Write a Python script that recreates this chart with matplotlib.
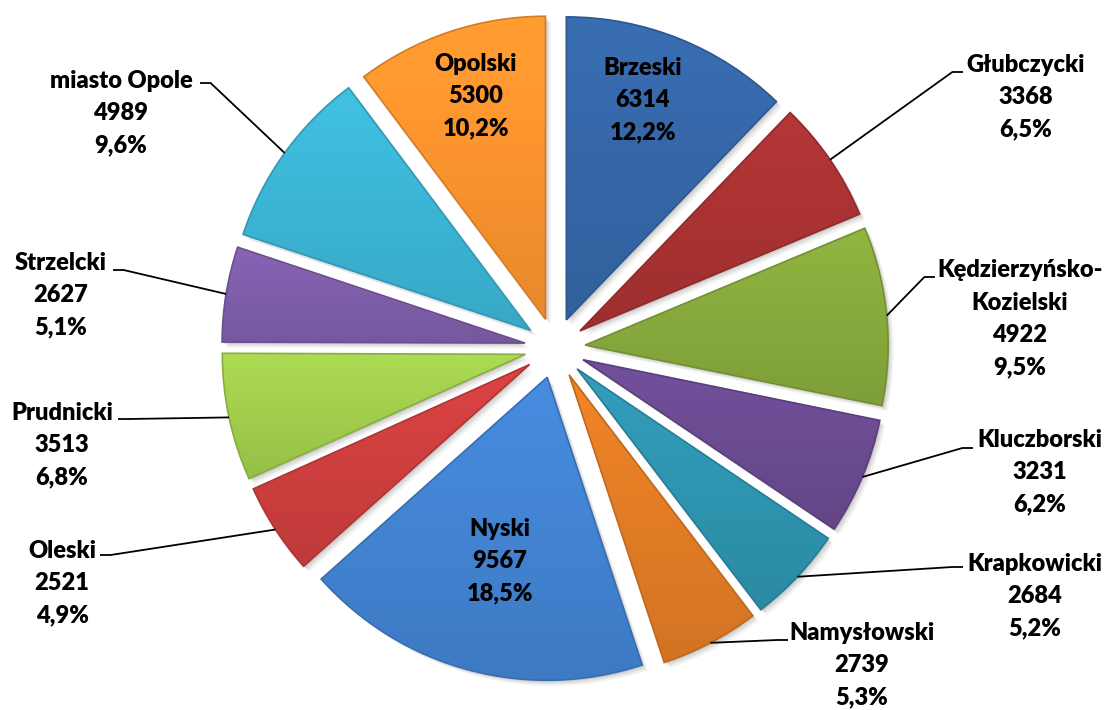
#!/usr/bin/env python3
"""Exploded pie: counts per powiat (opolskie)."""
import numpy as np
import matplotlib
matplotlib.use("Agg")
import matplotlib.pyplot as plt
from matplotlib.colors import to_rgb
from matplotlib.patches import PathPatch

names = ["Brzeski", "Głubczycki", "Kędzierzyńsko-\nKozielski", "Kluczborski",
         "Krapkowicki", "Namysłowski", "Nyski", "Oleski", "Prudnicki",
         "Strzelcki", "miasto Opole", "Opolski"]
values = [6314, 3368, 4922, 3231, 2684, 2739, 9567, 2521, 3513, 2627, 4989, 5300]
percents = ["12,2%", "6,5%", "9,5%", "6,2%", "5,2%", "5,3%", "18,5%", "4,9%",
            "6,8%", "5,1%", "9,6%", "10,2%"]
colors = ["#3566A6", "#A83232", "#86A83C", "#6A4A90", "#2E93AE", "#E07B25",
          "#4282D0", "#CC3E3E", "#A0CB4C", "#7E5DA8", "#3BB3D3", "#F7922E"]

W, H = 1109, 710
CX, CY, R = 555, 348, 303  # pie centre and radius in pixels (from top)
EXPLODE = 0.1

# label placement in pixels (text centre)
label_pos = [(643, 100), (1026, 97), (1020, 319), (1040, 472), (1035, 596),
             (862, 665), (500, 561), (62, 583), (62, 445), (61, 295),
             (121, 113), (476, 96)]
inside = [True, False, False, False, False, False, True, False, False, False,
          False, True]
# end of leader line next to the text (pixels)
line_end = [None, (963, 72), (935, 277), (973, 448), (963, 567), (788, 640),
            None, (100, 555), (118, 419), (113, 270), (200, 83), None]


def px2d(p):
    return ((p[0] - CX) / R, (CY - p[1]) / R)


fig = plt.figure(figsize=(W / 100, H / 100), dpi=100)
ax = fig.add_axes([0, 0, 1, 1])
explode = [EXPLODE] * len(values)

# soft shadow
for k, a in enumerate([0.09, 0.07, 0.05]):
    off = (k + 1) * 0.006
    sh, _ = ax.pie(values, explode=explode, startangle=90, counterclock=False,
                   radius=1, center=(off, -off), colors=["#000000"] * len(values),
                   frame=True)
    for w in sh:
        w.set_alpha(a)
        w.set_zorder(1)

wedges, _ = ax.pie(values, explode=explode, startangle=90, counterclock=False,
                   radius=1, colors=colors, frame=True,
                   wedgeprops=dict(linewidth=0))

# gentle vertical gradient + bevel on each wedge
for w, c in zip(wedges, colors):
    w.set_zorder(2)
    base = np.array(to_rgb(c))
    bb = w.get_path().get_extents(w.get_transform()).transformed(ax.transData.inverted())
    t = np.linspace(0, 1, 64)[:, None]
    shade = np.clip(base * (1.08 - 0.14 * t), 0, 1)
    img = np.repeat(shade[:, None, :], 2, axis=1)
    im = ax.imshow(img, extent=(bb.x0, bb.x1, bb.y0, bb.y1), origin="upper",
                   aspect="auto", zorder=3, interpolation="bilinear")
    im.set_clip_path(w)
    ax.add_patch(PathPatch(w.get_path(), transform=w.get_transform(),
                           facecolor="none", edgecolor=np.clip(base * 0.85, 0, 1),
                           linewidth=1.2, zorder=4))

ax.set_xlim(-CX / R, (W - CX) / R)
ax.set_ylim(-(H - CY) / R, CY / R)
ax.set_aspect("auto")
ax.axis("off")

# labels and leader lines
total = sum(values)
start = 90.0
for i, v in enumerate(values):
    span = 360.0 * v / total
    mid = np.deg2rad(start - span / 2)
    start -= span
    txt = f"{names[i]}\n{v}\n{percents[i]}"
    tx, ty = px2d(label_pos[i])
    ax.text(tx, ty, txt, ha="center", va="center", fontsize=17,
            fontweight=800, family=["Lato", "DejaVu Sans"], linespacing=1.58,
            color="black", zorder=6)
    if not inside[i]:
        ax0 = (1 + EXPLODE) * np.cos(mid)
        ay0 = (1 + EXPLODE) * np.sin(mid)
        ex, ey = px2d(line_end[i])
        elbow = ex + (-0.035 if ex > 0 else 0.035)
        ax.plot([ax0, elbow, ex], [ay0, ey, ey], color="black", lw=1.3,
                zorder=5, solid_capstyle="butt")

fig.savefig("out.png", dpi=100)
